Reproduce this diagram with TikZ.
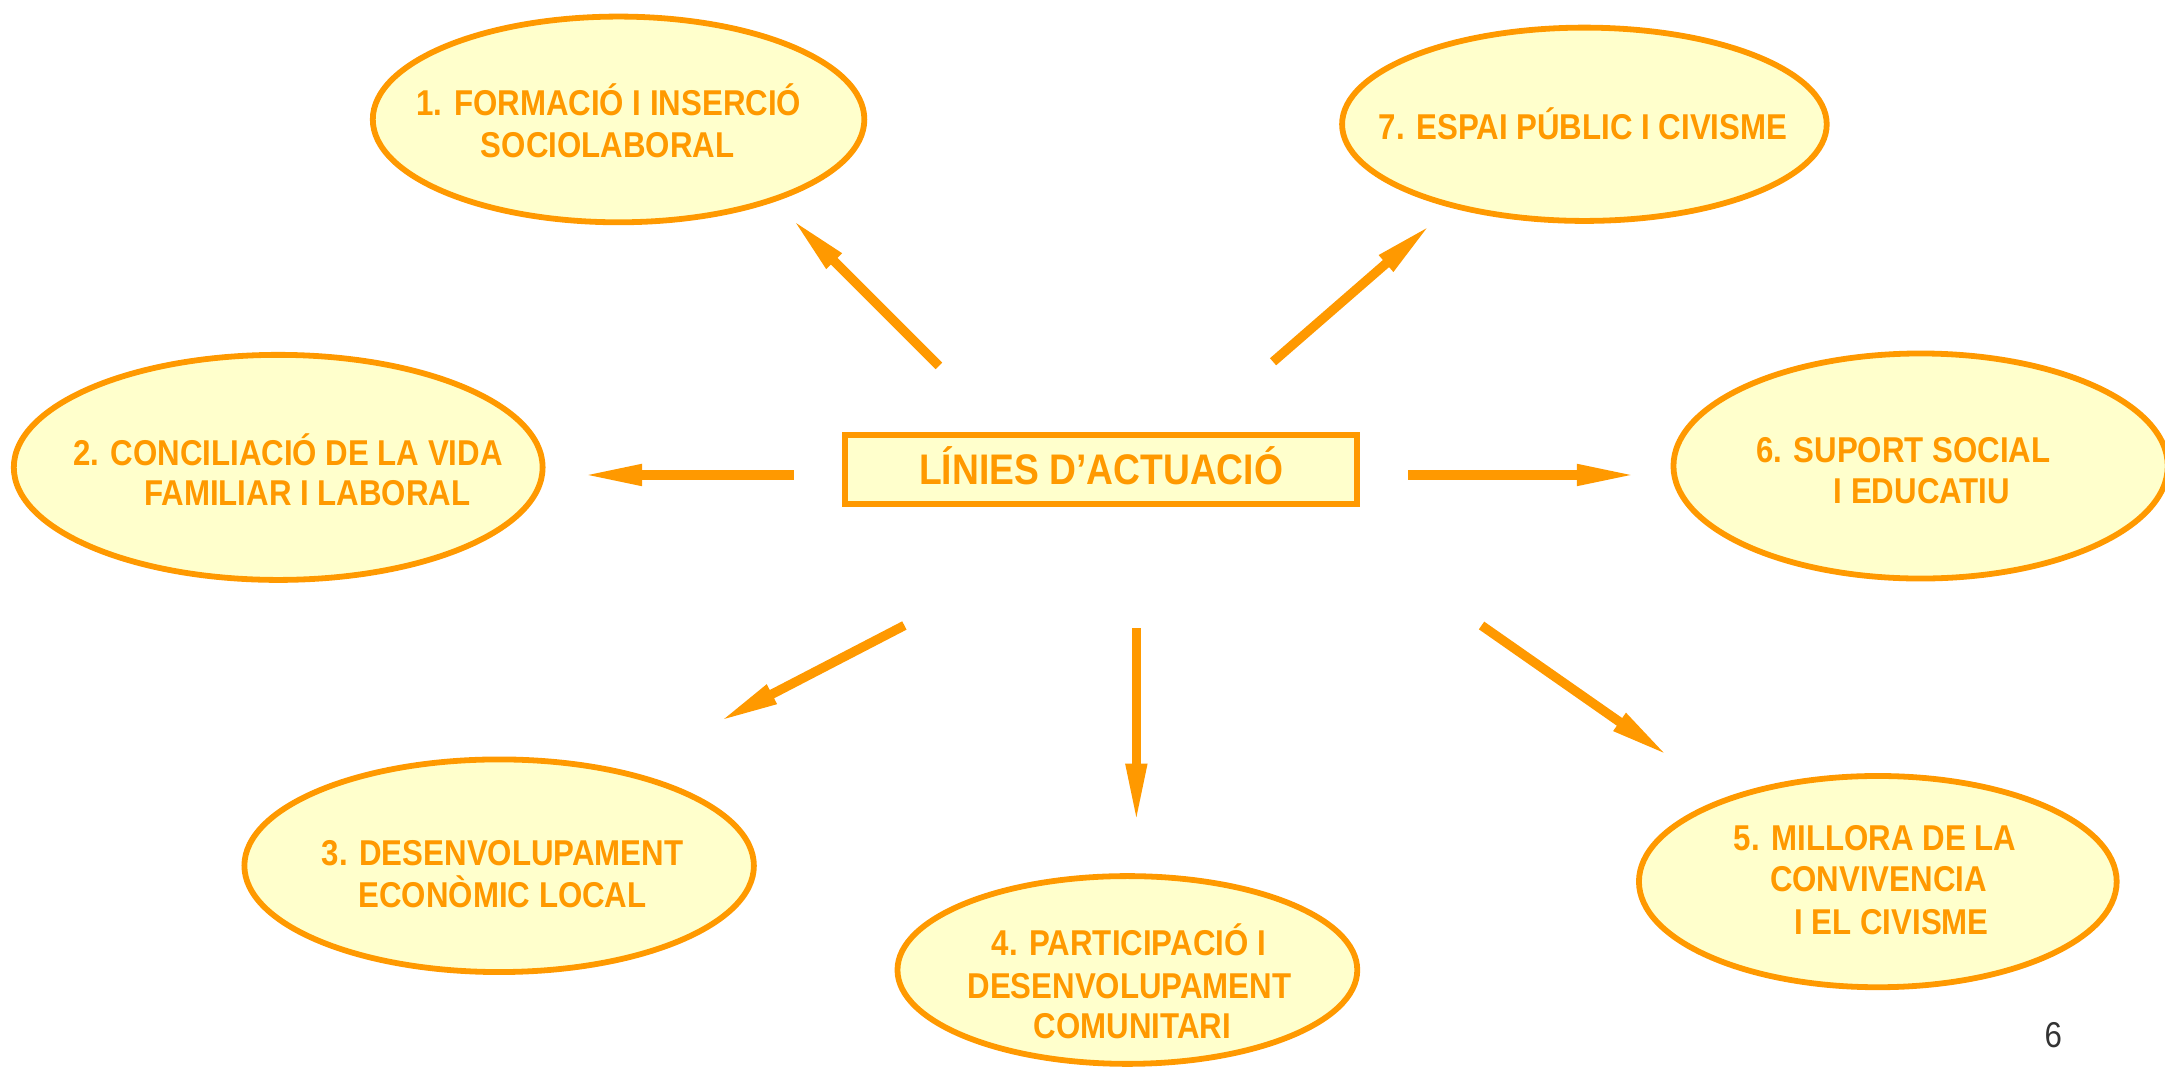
\documentclass[tikz,border=0pt]{standalone}
\usepackage{fontspec}
\setmainfont[FakeStretch=0.87]{Liberation Sans}
\usetikzlibrary{shapes.geometric,arrows.meta}
\definecolor{orng}{HTML}{FF9900}
\definecolor{paleyel}{HTML}{FFFFCC}
\definecolor{pgnum}{HTML}{333333}
\tikzset{
  bubble/.style={ellipse, draw=orng, fill=paleyel, line width=4.2pt, inner sep=0pt},
  lbl/.style={anchor=base, text=orng, font=\fontsize{26}{30}\selectfont\bfseries, inner sep=0pt},
  mainbox/.style={rectangle, draw=orng, fill=paleyel, line width=4.6pt, inner sep=0pt},
  bigarrow/.style={draw=orng, line width=6.8pt, line cap=butt, -{Triangle[length=44pt,width=14pt]}},
}
\begin{document}
\begin{tikzpicture}[x=1pt,y=-1pt]
\useasboundingbox (0,0) rectangle (1568,774);
% ellipses
\node[bubble, minimum width=356pt, minimum height=149pt] (e1) at (448,86.5) {};
\node[bubble, minimum width=351pt, minimum height=140pt] (e7) at (1147.5,90) {};
\node[bubble, minimum width=383pt, minimum height=163pt] (e2) at (201.5,338.5) {};
\node[bubble, minimum width=358pt, minimum height=163pt] (e6) at (1391,337.5) {};
\node[bubble, minimum width=369pt, minimum height=154pt] (e3) at (361.5,627) {};
\node[bubble, minimum width=333pt, minimum height=136pt] (e4) at (816.5,702.5) {};
\node[bubble, minimum width=346pt, minimum height=153pt] (e5) at (1360,638.5) {};
% centre box
\node[mainbox, minimum width=371pt, minimum height=50pt] (c) at (797.5,340) {};
\node[anchor=base, text=orng, font=\fontsize{31}{36}\selectfont\bfseries, inner sep=0pt] (ct) at (797.5,351) {LÍNIES D’ACTUACIÓ};
% labels
\node[lbl] (t1a) at (441,84) {1. FORMACIÓ I INSERCIÓ};
\node[lbl] (t1b) at (440,114) {SOCIOLABORAL};
\node[lbl] (t7a) at (1146.5,101) {7. ESPAI PÚBLIC I CIVISME};
\node[lbl] (t2a) at (208.5,337) {2. CONCILIACIÓ DE LA VIDA};
\node[lbl] (t2b) at (222.5,366) {FAMILIAR I LABORAL};
\node[lbl] (t6a) at (1378.5,335) {6. SUPORT SOCIAL};
\node[lbl] (t6b) at (1392,365) {I EDUCATIU};
\node[lbl] (t3a) at (364,627) {3. DESENVOLUPAMENT};
\node[lbl] (t3b) at (364,657) {ECONÒMIC LOCAL};
\node[lbl] (t4a) at (817.5,692) {4. PARTICIPACIÓ I};
\node[lbl] (t4b) at (818,723) {DESENVOLUPAMENT};
\node[lbl] (t4c) at (820,752) {COMUNITARI};
\node[lbl] (t5a) at (1358,616) {5. MILLORA DE LA};
\node[lbl] (t5b) at (1360.5,646) {CONVIVENCIA};
\node[lbl] (t5c) at (1370,677) {I EL CIVISME};
\node[anchor=base, text=pgnum, font=\fontsize{26}{30}\selectfont, inner sep=0pt] (pg) at (1487,759) {6};
% arrow end points
\coordinate (a1s) at (680,265); \coordinate (a1e) at (573,158);
\coordinate (a7s) at (922,262); \coordinate (a7e) at (1037,162);
\coordinate (a2s) at (575,344); \coordinate (a2e) at (421,344);
\coordinate (a6s) at (1020,344); \coordinate (a6e) at (1186,344);
\coordinate (a3s) at (655,453); \coordinate (a3e) at (520,523);
\coordinate (a4s) at (823,455); \coordinate (a4e) at (823,597);
\coordinate (a5s) at (1073,453); \coordinate (a5e) at (1209,548);
\draw[bigarrow] (a1s) -- (a1e);
\draw[bigarrow] (a7s) -- (a7e);
\draw[bigarrow] (a2s) -- (a2e);
\draw[bigarrow] (a6s) -- (a6e);
\draw[bigarrow] (a3s) -- (a3e);
\draw[bigarrow] (a4s) -- (a4e);
\draw[bigarrow] (a5s) -- (a5e);
\end{tikzpicture}
\end{document}
